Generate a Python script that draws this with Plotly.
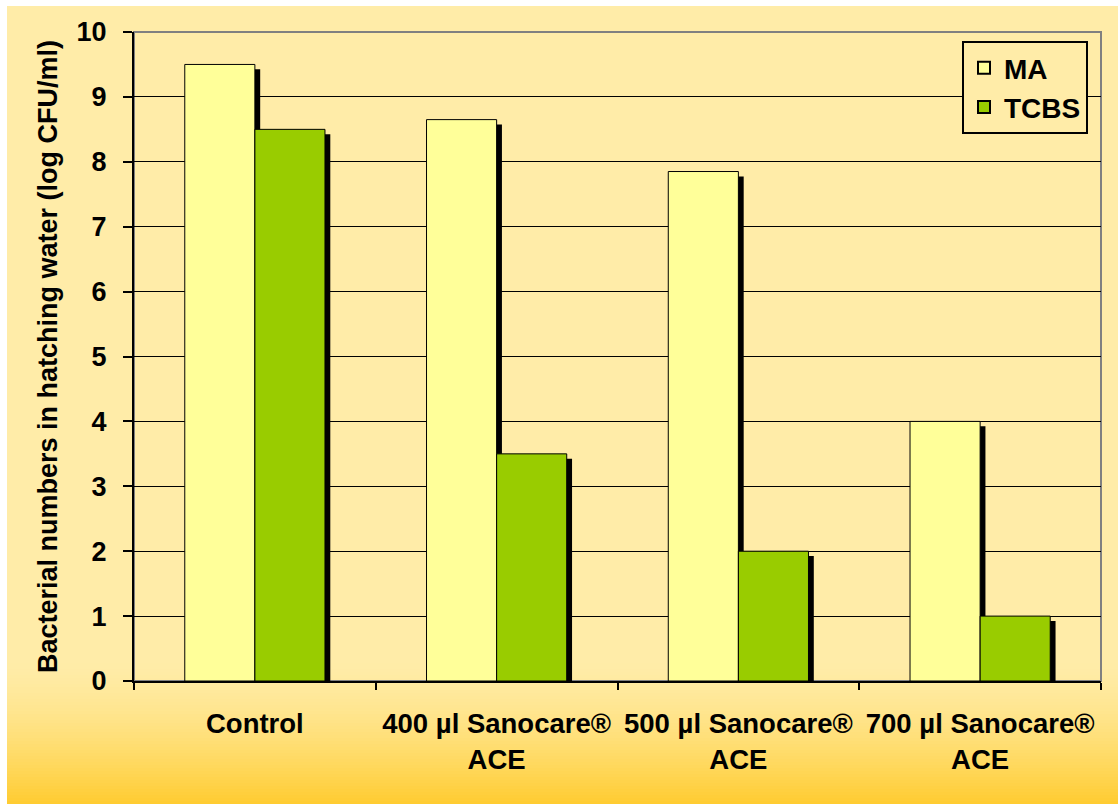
import plotly.graph_objects as go

categories = ["Control", "400 µl Sanocare®<br>ACE", "500 µl Sanocare®<br>ACE", "700 µl Sanocare®<br>ACE"]
ma_values = [9.5, 8.65, 7.85, 4.0]
tcbs_values = [8.5, 3.5, 2.0, 1.0]
y_ticks = [0, 1, 2, 3, 4, 5, 6, 7, 8, 9, 10]

W, H = 1118, 804
L, R, T, B = 134, 17, 32, 123
PW, PH = W - L - R, H - T - B

def px_x(p):
    return (p - L) / PW

def px_y(p):
    return (H - B - p) / PH

FONT = "Arial, 'Liberation Sans', sans-serif"
BAR_W = 0.29
SH_DX = 0.022
SH_DY = 0.075

fig = go.Figure()

# shadows
fig.add_trace(go.Bar(x=categories, y=[v - SH_DY for v in ma_values], offset=-BAR_W + SH_DX, width=BAR_W,
                     marker=dict(color="black", line=dict(width=0)), showlegend=False, hoverinfo="skip"))
fig.add_trace(go.Bar(x=categories, y=[v - SH_DY for v in tcbs_values], offset=SH_DX, width=BAR_W,
                     marker=dict(color="black", line=dict(width=0)), showlegend=False, hoverinfo="skip"))
# bars
fig.add_trace(go.Bar(name="MA", x=categories, y=ma_values, offset=-BAR_W, width=BAR_W,
                     marker=dict(color="#FFFF99", line=dict(color="black", width=1))))
fig.add_trace(go.Bar(name="TCBS", x=categories, y=tcbs_values, offset=0, width=BAR_W,
                     marker=dict(color="#99CC00", line=dict(color="black", width=1))))

# background gradient strips
shapes = []
top = (255, 236, 168)
bot = (255, 204, 48)
y_start = 6
y_grad = 660
shapes.append(dict(type="rect", xref="paper", yref="paper", x0=px_x(7), x1=px_x(W), y0=px_y(y_grad), y1=px_y(y_start),
                   fillcolor="rgb(%d,%d,%d)" % top, line=dict(width=0), layer="below"))
n = 48
step = (H - y_grad) / n
for i in range(n):
    t = (i + 0.5) / n
    t = t ** 1.5
    c = tuple(int(round(top[k] + (bot[k] - top[k]) * t)) for k in range(3))
    y0p = y_grad + i * step
    shapes.append(dict(type="rect", xref="paper", yref="paper", x0=px_x(7), x1=px_x(W),
                       y0=px_y(y0p + step + 0.5), y1=px_y(y0p),
                       fillcolor="rgb(%d,%d,%d)" % c, line=dict(width=0), layer="below"))
# plot area gray frame (top & right)
shapes.append(dict(type="rect", xref="x domain", yref="y domain", x0=0, x1=1, y0=0, y1=1,
                   line=dict(color="#808080", width=2), fillcolor="rgba(0,0,0,0)", layer="below"))

fig.update_layout(
    width=W, height=H,
    margin=dict(l=L, r=R, t=T, b=B),
    paper_bgcolor="white",
    plot_bgcolor="rgba(0,0,0,0)",
    barmode="overlay",
    shapes=shapes,
    font=dict(family=FONT, color="black"),
    legend=dict(x=px_x(962), y=px_y(41), xanchor="left", yanchor="top",
                bgcolor="rgb(255,236,168)", bordercolor="black", borderwidth=2,
                font=dict(size=28, family=FONT, color="black", weight="bold"),
                itemsizing="constant", tracegroupgap=0, itemwidth=30),
    xaxis=dict(
        type="category", tickson="boundaries", ticks="outside", ticklen=7, tickcolor="black", tickwidth=2,
        showline=True, linecolor="black", linewidth=2, showgrid=False,
        tickfont=dict(size=27.5, family=FONT, weight="bold"),
        ticklabelstandoff=17,
        range=[-0.5, 3.5],
    ),
    yaxis=dict(
        range=[0, 10], tickvals=y_ticks, ticks="outside", ticklen=9, tickcolor="black", tickwidth=2,
        showline=True, linecolor="black", linewidth=2,
        showgrid=True, gridcolor="black", gridwidth=1.3,
        tickfont=dict(size=27, family=FONT, weight="bold"),
        ticklabelstandoff=11,
        title=dict(text="Bacterial numbers in hatching water (log CFU/ml)",
                   font=dict(size=27, family=FONT, weight="bold"), standoff=11),
        zeroline=False,
    ),
)

fig.write_html("out.html")
